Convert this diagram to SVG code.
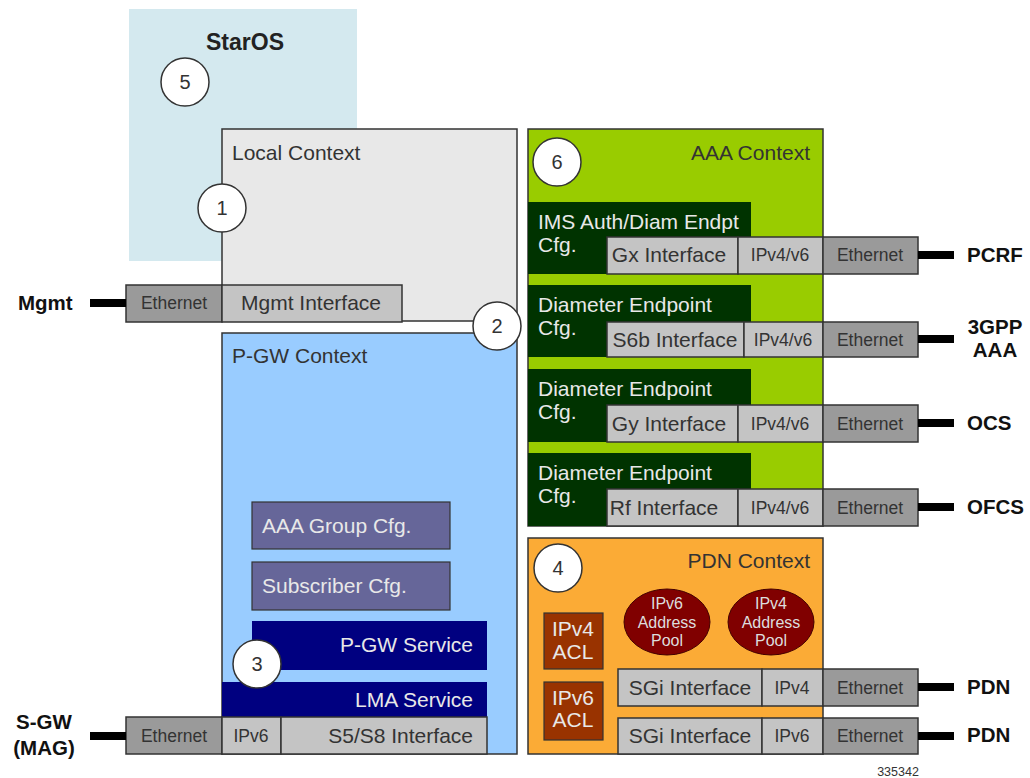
<svg xmlns="http://www.w3.org/2000/svg" width="1030" height="778" viewBox="0 0 1030 778">
<style>
text{font-family:"Liberation Sans",Arial,sans-serif}
.ctx{stroke:#333;stroke-width:1.5}
.box{stroke:#333;stroke-width:1.2}
.if{fill:#c4c4c4;stroke:#333;stroke-width:1.5}
.eth{fill:#9a9a9a;stroke:#333;stroke-width:1.5}
.t18{font-size:21px;fill:#333}
.t16{font-size:17.5px;fill:#333}
.wt{font-size:21px;fill:#e8e8e8}
.lbl{font-size:20.5px;font-weight:bold;fill:#111}
.num{fill:#fff;stroke:#333;stroke-width:1.5}
.numt{font-size:20px;fill:#333;text-anchor:middle}
.link{stroke:#000;stroke-width:8;fill:none}
</style>
<g id="staros">
<rect x="129" y="9" width="228" height="252" fill="#d4e9ef"/>
<text x="245" y="50" font-size="23" font-weight="bold" fill="#222" text-anchor="middle">StarOS</text>
</g>
<g id="local-context">
<rect class="ctx" x="222" y="129" width="295" height="192" fill="#e8e8e8"/>
<text class="t18" x="232" y="160">Local Context</text>
</g>
<g id="mgmt-interface">
<rect class="eth" x="126" y="285" width="96" height="37"/>
<text class="t16" x="174" y="309" text-anchor="middle">Ethernet</text>
<rect class="if" x="222" y="285" width="180" height="37"/>
<text class="t18" x="311" y="310" text-anchor="middle">Mgmt Interface</text>
</g>
<g id="pgw-context">
<rect class="ctx" x="222" y="333" width="295" height="421" fill="#99ccff"/>
<text class="t18" x="232" y="363">P-GW Context</text>
</g>
<g id="aaa-group">
<rect class="box" x="252" y="502" width="198" height="47" fill="#666699"/>
<text class="wt" x="262" y="533">AAA Group Cfg.</text>
</g>
<g id="subscriber">
<rect class="box" x="252" y="562" width="198" height="48" fill="#666699"/>
<text class="wt" x="262" y="593">Subscriber Cfg.</text>
</g>
<g id="pgw-service">
<rect x="252" y="621" width="235" height="49" fill="#000080"/>
<text class="wt" x="473" y="652" text-anchor="end">P-GW Service</text>
</g>
<g id="lma-service">
<rect x="222" y="682" width="265" height="35" fill="#000080"/>
<text class="wt" x="473" y="707" text-anchor="end">LMA Service</text>
</g>
<g id="s5s8-interface">
<rect class="eth" x="126" y="717" width="96" height="37"/>
<text class="t16" x="174" y="742" text-anchor="middle">Ethernet</text>
<rect class="if" x="222" y="717" width="59" height="37"/>
<text class="t16" x="251" y="742" text-anchor="middle">IPv6</text>
<rect class="if" x="281" y="717" width="206" height="37"/>
<text class="t18" x="473" y="743" text-anchor="end">S5/S8 Interface</text>
</g>
<g id="aaa-context">
<rect class="ctx" x="528" y="129" width="295" height="397" fill="#99cc00"/>
<text class="t18" x="810" y="160" text-anchor="end" fill="#222">AAA Context</text>
</g>
<g id="gx">
<rect x="528" y="202" width="223" height="72" fill="#003300"/>
<text class="wt" x="538" y="229">IMS Auth/Diam Endpt</text>
<text class="wt" x="538" y="252">Cfg.</text>
<rect class="if" x="607" y="237" width="131" height="37"/>
<text class="t18" x="669" y="262" text-anchor="middle">Gx Interface</text>
<rect class="if" x="738" y="237" width="85" height="37"/>
<text class="t16" x="780" y="261" text-anchor="middle">IPv4/v6</text>
<rect class="eth" x="823" y="237" width="95" height="37"/>
<text class="t16" x="870" y="261" text-anchor="middle">Ethernet</text>
</g>
<g id="s6b">
<rect x="528" y="285" width="223" height="72" fill="#003300"/>
<text class="wt" x="538" y="312">Diameter Endpoint</text>
<text class="wt" x="538" y="335">Cfg.</text>
<rect class="if" x="607" y="322" width="137" height="35"/>
<text class="t18" x="675" y="347" text-anchor="middle">S6b Interface</text>
<rect class="if" x="744" y="322" width="79" height="35"/>
<text class="t16" x="783" y="346" text-anchor="middle">IPv4/v6</text>
<rect class="eth" x="823" y="322" width="95" height="35"/>
<text class="t16" x="870" y="346" text-anchor="middle">Ethernet</text>
</g>
<g id="gy">
<rect x="528" y="369" width="223" height="73" fill="#003300"/>
<text class="wt" x="538" y="396">Diameter Endpoint</text>
<text class="wt" x="538" y="419">Cfg.</text>
<rect class="if" x="607" y="405" width="131" height="37"/>
<text class="t18" x="669" y="431" text-anchor="middle">Gy Interface</text>
<rect class="if" x="738" y="405" width="85" height="37"/>
<text class="t16" x="780" y="430" text-anchor="middle">IPv4/v6</text>
<rect class="eth" x="823" y="405" width="95" height="37"/>
<text class="t16" x="870" y="430" text-anchor="middle">Ethernet</text>
</g>
<g id="rf">
<rect x="528" y="453" width="223" height="73" fill="#003300"/>
<text class="wt" x="538" y="480">Diameter Endpoint</text>
<text class="wt" x="538" y="503">Cfg.</text>
<rect class="if" x="607" y="489" width="131" height="37"/>
<text class="t18" x="664" y="515" text-anchor="middle">Rf Interface</text>
<rect class="if" x="738" y="489" width="85" height="37"/>
<text class="t16" x="780" y="514" text-anchor="middle">IPv4/v6</text>
<rect class="eth" x="823" y="489" width="95" height="37"/>
<text class="t16" x="870" y="514" text-anchor="middle">Ethernet</text>
</g>
<g id="pdn-context">
<rect class="ctx" x="528" y="538" width="295" height="216" fill="#fbab36"/>
<text class="t18" x="810" y="568" text-anchor="end" fill="#222">PDN Context</text>
</g>
<g id="ipv4-acl">
<rect class="box" x="544" y="613" width="59" height="56" fill="#993300"/>
<text class="wt" x="573" y="636" text-anchor="middle" font-size="19">IPv4</text>
<text class="wt" x="573" y="659" text-anchor="middle" font-size="19">ACL</text>
</g>
<g id="ipv6-acl">
<rect class="box" x="544" y="682" width="59" height="58" fill="#993300"/>
<text class="wt" x="573" y="705" text-anchor="middle" font-size="19">IPv6</text>
<text class="wt" x="573" y="727" text-anchor="middle" font-size="19">ACL</text>
</g>
<g id="ipv6-pool">
<ellipse cx="667" cy="622" rx="43" ry="33" fill="#800000" stroke="#400" stroke-width="1"/>
<text x="667" y="609" font-size="16" fill="#ddd" text-anchor="middle">IPv6</text>
<text x="667" y="628" font-size="16" fill="#ddd" text-anchor="middle">Address</text>
<text x="667" y="646" font-size="16" fill="#ddd" text-anchor="middle">Pool</text>
</g>
<g id="ipv4-pool">
<ellipse cx="771" cy="622" rx="43" ry="33" fill="#800000" stroke="#400" stroke-width="1"/>
<text x="771" y="609" font-size="16" fill="#ddd" text-anchor="middle">IPv4</text>
<text x="771" y="628" font-size="16" fill="#ddd" text-anchor="middle">Address</text>
<text x="771" y="646" font-size="16" fill="#ddd" text-anchor="middle">Pool</text>
</g>
<g id="sgi-v4">
<rect class="if" x="618" y="669" width="144" height="37"/>
<text class="t18" x="690" y="695" text-anchor="middle">SGi Interface</text>
<rect class="if" x="762" y="669" width="61" height="37"/>
<text class="t16" x="792" y="694" text-anchor="middle">IPv4</text>
<rect class="eth" x="823" y="669" width="95" height="37"/>
<text class="t16" x="870" y="694" text-anchor="middle">Ethernet</text>
</g>
<g id="sgi-v6">
<rect class="if" x="618" y="718" width="144" height="36"/>
<text class="t18" x="690" y="743" text-anchor="middle">SGi Interface</text>
<rect class="if" x="762" y="718" width="61" height="36"/>
<text class="t16" x="792" y="742" text-anchor="middle">IPv6</text>
<rect class="eth" x="823" y="718" width="95" height="36"/>
<text class="t16" x="870" y="742" text-anchor="middle">Ethernet</text>
</g>
<g id="markers">
<circle class="num" cx="185" cy="82" r="24"/><text class="numt" x="185" y="89">5</text>
<circle class="num" cx="222" cy="208" r="24"/><text class="numt" x="222" y="215">1</text>
<circle class="num" cx="497" cy="326" r="24"/><text class="numt" x="497" y="333">2</text>
<circle class="num" cx="257" cy="664" r="24"/><text class="numt" x="257" y="671">3</text>
<circle class="num" cx="558" cy="568" r="24"/><text class="numt" x="558" y="575">4</text>
<circle class="num" cx="557" cy="162" r="24"/><text class="numt" x="557" y="169">6</text>
</g>
<g id="connectors">
<line class="link" x1="90" y1="303" x2="126" y2="303"/>
<line class="link" x1="90" y1="736" x2="126" y2="736"/>
<line class="link" x1="918" y1="255" x2="954" y2="255"/>
<line class="link" x1="918" y1="339" x2="954" y2="339"/>
<line class="link" x1="918" y1="423" x2="954" y2="423"/>
<line class="link" x1="918" y1="507" x2="954" y2="507"/>
<line class="link" x1="918" y1="687" x2="954" y2="687"/>
<line class="link" x1="918" y1="736" x2="954" y2="736"/>
</g>
<g id="labels">
<text class="lbl" x="18" y="310">Mgmt</text>
<text class="lbl" x="44" y="729" text-anchor="middle">S-GW</text>
<text class="lbl" x="44" y="755" text-anchor="middle">(MAG)</text>
<text class="lbl" x="967" y="262">PCRF</text>
<text class="lbl" x="995" y="334" text-anchor="middle">3GPP</text>
<text class="lbl" x="995" y="357" text-anchor="middle">AAA</text>
<text class="lbl" x="967" y="430">OCS</text>
<text class="lbl" x="967" y="514">OFCS</text>
<text class="lbl" x="967" y="694">PDN</text>
<text class="lbl" x="967" y="742">PDN</text>
<text x="898" y="776" font-size="12.5" fill="#333" text-anchor="middle">335342</text>
</g>
</svg>
